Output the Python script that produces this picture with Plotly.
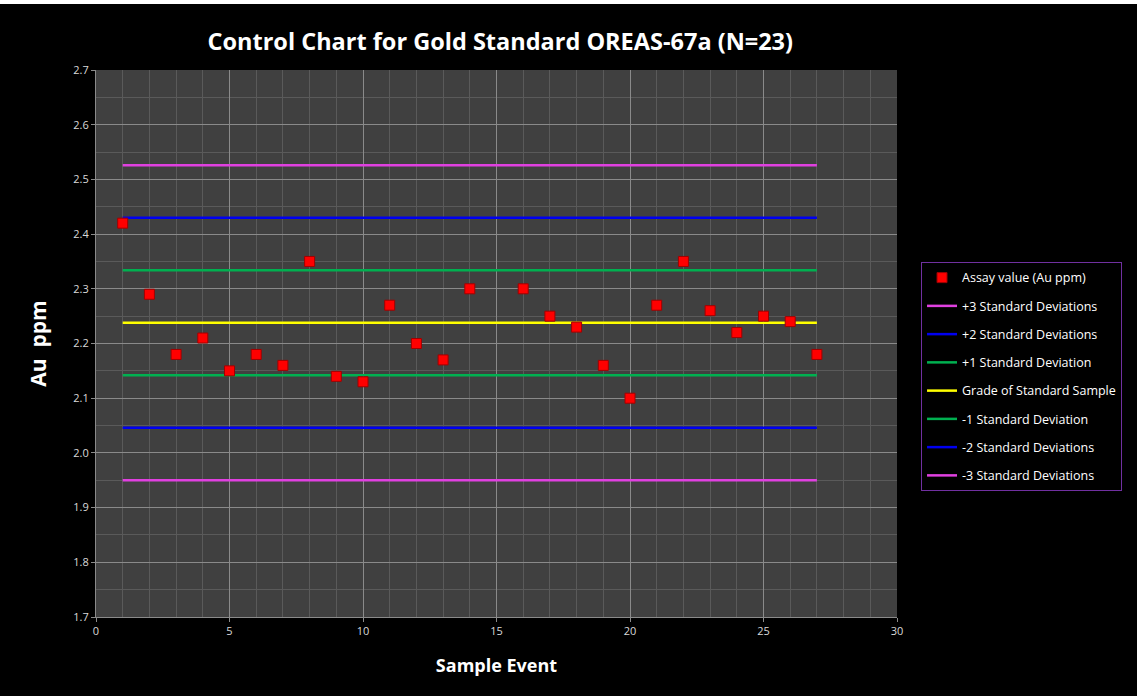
import plotly.graph_objects as go

sample_events = [1, 2, 3, 4, 5, 6, 7, 8, 9, 10, 11, 12, 13, 14,
                 16, 17, 18, 19, 20, 21, 22, 23, 24, 25, 26, 27]
assay_values = [2.42, 2.29, 2.18, 2.21, 2.15, 2.18, 2.16, 2.35, 2.14, 2.13, 2.27, 2.20, 2.17, 2.30,
                2.30, 2.25, 2.23, 2.16, 2.10, 2.27, 2.35, 2.26, 2.22, 2.25, 2.24, 2.18]

line_x = [1, 27]
line_names = ["+3 Standard Deviations", "+2 Standard Deviations", "+1 Standard Deviation",
              "Grade of Standard Sample", "-1 Standard Deviation", "-2 Standard Deviations",
              "-3 Standard Deviations"]
line_levels = [2.526, 2.430, 2.334, 2.238, 2.142, 2.046, 1.950]
line_colors = ["#E040E0", "#0000F0", "#00B050", "#FFFF00", "#00B050", "#0000F0", "#E040E0"]

fig = go.Figure()
for i, (nm, lv, col) in enumerate(zip(line_names, line_levels, line_colors)):
    fig.add_trace(go.Scatter(
        x=line_x, y=[lv, lv], mode="lines", name=nm,
        line=dict(color=col, width=2.5), legendgroup=f"l{i}", legendrank=i + 2,
    ))
fig.add_trace(go.Scatter(
    x=sample_events, y=assay_values, mode="markers", name="Assay value (Au ppm)",
    marker=dict(symbol="square", size=10, color="#FF0000",
                line=dict(color="#A00000", width=1)),
    legendgroup="a", legendrank=1,
))

axis_font = dict(family="Open Sans, Liberation Sans, sans-serif", size=11, color="#D9D9D9")

fig.update_layout(
    width=1137, height=696,
    paper_bgcolor="#000000", plot_bgcolor="#404040",
    margin=dict(l=96, r=240, t=70, b=79),
    title=dict(text="<b>Control Chart for Gold Standard OREAS-67a (N=23)</b>",
               x=0.44, xanchor="center", y=0.94, yanchor="middle",
               font=dict(family="Open Sans, sans-serif", size=23.5, color="#FFFFFF")),
    xaxis=dict(range=[0, 30], dtick=5, tick0=0, showgrid=True, gridcolor="#8A8A8A", gridwidth=1,
               minor=dict(dtick=1, showgrid=True, gridcolor="#5A5A5A", gridwidth=1),
               zeroline=False, showline=True, linecolor="#8A8A8A", ticks="outside",
               ticklen=4, tickcolor="#8A8A8A", tickfont=axis_font,
               title=dict(text="<b>Sample Event</b>", standoff=22,
                          font=dict(family="Open Sans, sans-serif", size=18, color="#FFFFFF"))),
    yaxis=dict(range=[1.7, 2.7], dtick=0.1, tick0=1.7, tickformat=".1f", showgrid=True,
               gridcolor="#8A8A8A", gridwidth=1,
               minor=dict(dtick=0.05, showgrid=True, gridcolor="#5A5A5A", gridwidth=1),
               zeroline=False, showline=True, linecolor="#8A8A8A", ticks="outside",
               ticklen=4, tickcolor="#8A8A8A", tickfont=axis_font,
               title=dict(text="<b>Au  ppm</b>", standoff=20,
                          font=dict(family="Open Sans, sans-serif", size=21, color="#FFFFFF"))),
    legend=dict(x=1.03, xanchor="left", y=0.649, yanchor="top",
                bgcolor="#000000", bordercolor="#7030A0", borderwidth=1,
                font=dict(family="Open Sans, sans-serif", size=12.5, color="#FFFFFF"),
                traceorder="grouped", tracegroupgap=9, itemwidth=30),
    showlegend=True,
    shapes=[dict(type="rect", xref="paper", yref="paper", x0=-0.2, x1=1.5,
                 y0=(696 - 79 - 4) / 547, y1=2, fillcolor="#FFFFFF", line=dict(width=0),
                 layer="above")],
)

fig.write_html("out.html", config={"displayModeBar": False},
               post_script="document.body.style.margin='0';document.body.style.padding='0';")
